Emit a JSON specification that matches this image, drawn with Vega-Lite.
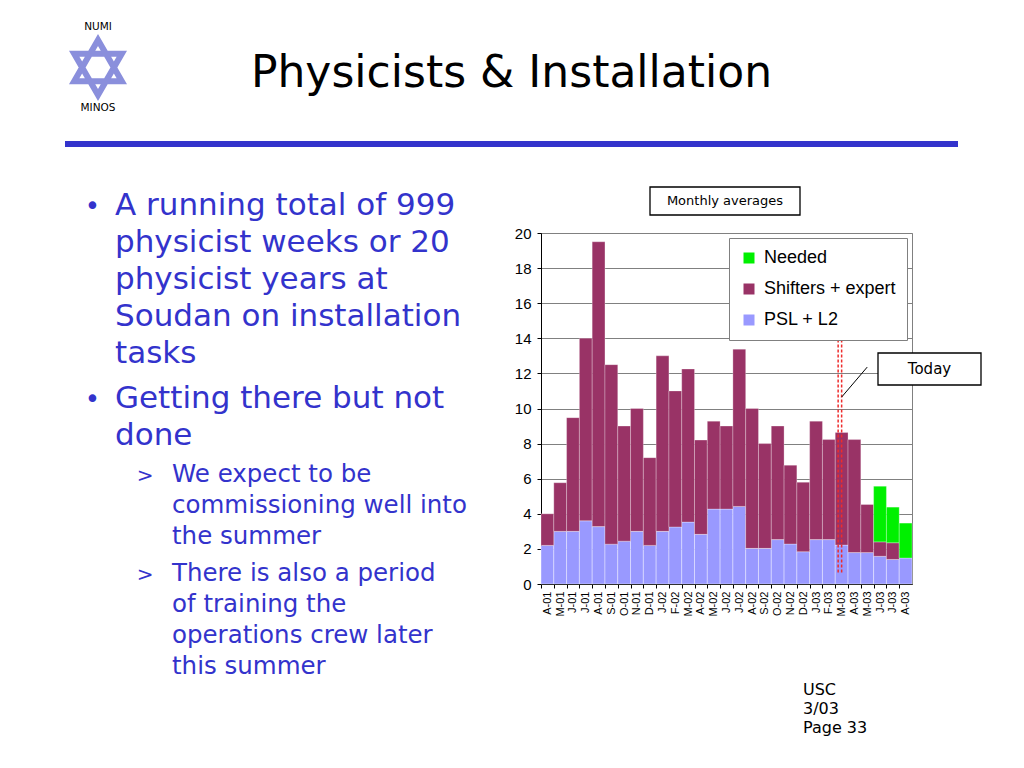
{
  "$schema": "https://vega.github.io/schema/vega-lite/v6.json",
  "width": 371,
  "height": 351,
  "autosize": {"type": "none"},
  "padding": {"left": 541, "top": 233, "right": 112, "bottom": 184},
  "background": "white",
  "config": {
    "view": {"stroke": "#808080", "strokeWidth": 1},
    "font": "DejaVu Sans",
    "axisY": {"labelFont": "Liberation Sans", "labelFontSize": 15, "labelColor": "black", "tickColor": "black", "tickSize": 4, "domainColor": "black", "labelPadding": 6, "grid": true, "gridColor": "#808080", "gridOpacity": 1, "tickCount": 11, "labelOverlap": false},
    "axisX": {"labelFont": "Liberation Sans", "labelFontSize": 11, "labelColor": "black", "tickColor": "black", "tickSize": 4, "domainColor": "black", "labelPadding": 3, "grid": false, "labelOverlap": false}
  },
  "resolve": {"scale": {"x": "independent", "y": "independent"}},
  "layer": [
    {
      "data": {"values": [
        {"m": "2001-04", "psl": 2.2, "tot": 4.0, "need": null},
        {"m": "2001-05", "psl": 3.0, "tot": 5.77, "need": null},
        {"m": "2001-06", "psl": 3.0, "tot": 9.48, "need": null},
        {"m": "2001-07", "psl": 3.6, "tot": 14.0, "need": null},
        {"m": "2001-08", "psl": 3.27, "tot": 19.5, "need": null},
        {"m": "2001-09", "psl": 2.27, "tot": 12.5, "need": null},
        {"m": "2001-10", "psl": 2.44, "tot": 9.0, "need": null},
        {"m": "2001-11", "psl": 3.0, "tot": 10.0, "need": null},
        {"m": "2001-12", "psl": 2.2, "tot": 7.2, "need": null},
        {"m": "2002-01", "psl": 3.0, "tot": 13.0, "need": null},
        {"m": "2002-02", "psl": 3.25, "tot": 11.0, "need": null},
        {"m": "2002-03", "psl": 3.53, "tot": 12.25, "need": null},
        {"m": "2002-04", "psl": 2.83, "tot": 8.2, "need": null},
        {"m": "2002-05", "psl": 4.27, "tot": 9.28, "need": null},
        {"m": "2002-06", "psl": 4.27, "tot": 9.0, "need": null},
        {"m": "2002-07", "psl": 4.42, "tot": 13.38, "need": null},
        {"m": "2002-08", "psl": 2.03, "tot": 10.0, "need": null},
        {"m": "2002-09", "psl": 2.03, "tot": 8.0, "need": null},
        {"m": "2002-10", "psl": 2.53, "tot": 9.0, "need": null},
        {"m": "2002-11", "psl": 2.28, "tot": 6.77, "need": null},
        {"m": "2002-12", "psl": 1.84, "tot": 5.8, "need": null},
        {"m": "2003-01", "psl": 2.53, "tot": 9.28, "need": null},
        {"m": "2003-02", "psl": 2.53, "tot": 8.23, "need": null},
        {"m": "2003-03", "psl": 2.22, "tot": 8.63, "need": null},
        {"m": "2003-04", "psl": 1.79, "tot": 8.23, "need": null},
        {"m": "2003-05", "psl": 1.79, "tot": 4.53, "need": null},
        {"m": "2003-06", "psl": 1.58, "tot": 2.4, "need": 5.57},
        {"m": "2003-07", "psl": 1.4, "tot": 2.35, "need": 4.38},
        {"m": "2003-08", "psl": 1.48, "tot": 1.48, "need": 3.47}
      ]},
      "encoding": {
        "x": {
          "field": "m", "type": "ordinal", "title": null,
          "scale": {"type": "band", "paddingInner": 0, "paddingOuter": 0},
          "axis": {
            "labelExpr": "substring('JFMAMJJASOND', toNumber(substring(datum.value, 5, 7)) - 1, toNumber(substring(datum.value, 5, 7))) + '-' + substring(datum.value, 2, 4)",
            "labelAngle": -90, "labelAlign": "right", "labelBaseline": "middle",
            "tickOffset": -6.397, "labelOffset": 6.397, "title": null
          }
        }
      },
      "layer": [
        {
          "mark": {"type": "bar", "stroke": "white", "strokeWidth": 0.7, "strokeOpacity": 0.55},
          "encoding": {
            "y": {
              "field": "psl", "type": "quantitative", "title": null,
              "scale": {"domain": [0, 20], "nice": false},
              "axis": {"values": [0, 2, 4, 6, 8, 10, 12, 14, 16, 18, 20], "tickCount": 11, "title": null}
            },
            "color": {
              "datum": "PSL + L2", "type": "nominal",
              "scale": {"domain": ["Needed", "Shifters + expert", "PSL + L2"], "range": ["#00f000", "#993366", "#9999ff"]},
              "legend": {
                "title": null, "orient": "top-right", "offset": 5, "fillColor": "white",
                "strokeColor": "#808080", "padding": 11, "labelFont": "Liberation Sans",
                "labelFontSize": 18, "labelColor": "black", "symbolType": "square",
                "symbolSize": 121, "symbolStrokeWidth": 0, "symbolOpacity": 1,
                "rowPadding": 13, "labelOffset": 6
              }
            }
          }
        },
        {
          "transform": [{"filter": "datum.tot > datum.psl"}],
          "mark": {"type": "bar", "stroke": "white", "strokeWidth": 0.7, "strokeOpacity": 0.4},
          "encoding": {
            "y": {"field": "psl", "type": "quantitative", "title": null, "axis": {"values": [0, 2, 4, 6, 8, 10, 12, 14, 16, 18, 20], "tickCount": 11, "title": null}},
            "y2": {"field": "tot"},
            "color": {"datum": "Shifters + expert", "type": "nominal"}
          }
        },
        {
          "transform": [{"filter": "datum.need != null"}],
          "mark": {"type": "bar", "stroke": "white", "strokeWidth": 0.7, "strokeOpacity": 0.4},
          "encoding": {
            "y": {"field": "tot", "type": "quantitative", "title": null, "axis": {"values": [0, 2, 4, 6, 8, 10, 12, 14, 16, 18, 20], "tickCount": 11, "title": null}},
            "y2": {"field": "need"},
            "color": {"datum": "Needed", "type": "nominal"}
          }
        },
        {
          "data": {"values": [{"m": "2003-03"}]},
          "mark": {"type": "rule", "color": "#ee2c2c", "strokeWidth": 1.5, "strokeDash": [3, 2], "xOffset": -3.5},
          "encoding": {"y": {"datum": 0.65, "type": "quantitative", "title": null, "axis": {"values": [0, 2, 4, 6, 8, 10, 12, 14, 16, 18, 20], "tickCount": 11, "title": null}}, "y2": {"datum": 14.3}}
        },
        {
          "data": {"values": [{"m": "2003-03"}]},
          "mark": {"type": "rule", "color": "#ee2c2c", "strokeWidth": 1.5, "strokeDash": [3, 2], "xOffset": 0},
          "encoding": {"y": {"datum": 0.65, "type": "quantitative", "title": null, "axis": {"values": [0, 2, 4, 6, 8, 10, 12, 14, 16, 18, 20], "tickCount": 11, "title": null}}, "y2": {"datum": 14.3}}
        },
        {
          "data": {"values": [{"m": "2003-03", "y": 10.65}, {"m": "2003-05", "y": 12.36}]},
          "mark": {"type": "line", "color": "black", "strokeWidth": 1},
          "encoding": {"y": {"field": "y", "type": "quantitative", "title": null, "axis": {"values": [0, 2, 4, 6, 8, 10, 12, 14, 16, 18, 20], "tickCount": 11, "title": null}}}
        }
      ]
    },
    {
      "data": {"values": [{}]},
      "layer": [
        {
          "mark": {"type": "text", "text": "Physicists & Installation", "fontSize": 44, "font": "DejaVu Sans", "color": "black", "align": "center", "baseline": "alphabetic"},
          "encoding": {
            "x": {"datum": "mid", "type": "nominal", "scale": {"type": "point", "domain": ["start", "mid", "end"], "range": [-476, 417], "padding": 0}, "axis": null},
            "y": {"datum": "title", "type": "nominal", "scale": {"type": "point", "domain": ["title", "rule"], "range": [-146, -89], "padding": 0}, "axis": null}
          }
        },
        {
          "mark": {"type": "rule", "color": "#3333cc", "strokeWidth": 6},
          "encoding": {
            "x": {"datum": "start", "type": "nominal", "scale": {"type": "point", "domain": ["start", "mid", "end"], "range": [-476, 417], "padding": 0}, "axis": null},
            "x2": {"datum": "end"},
            "y": {"datum": "rule", "type": "nominal", "scale": {"type": "point", "domain": ["title", "rule"], "range": [-146, -89], "padding": 0}, "axis": null}
          }
        }
      ]
    },
    {
      "data": {"values": [{}]},
      "encoding": {
        "x": {"datum": "logo", "type": "nominal", "scale": {"type": "point", "domain": ["logo"], "range": [-443, -443], "padding": 0}, "axis": null}
      },
      "layer": [
        {
          "mark": {"type": "point", "shape": "M0,-1L0.866,0.5L-0.866,0.5Z M0,1L0.866,-0.5L-0.866,-0.5Z", "size": 3025, "filled": false, "stroke": "#8a8fdc", "strokeWidth": 6, "opacity": 1},
          "encoding": {"y": {"datum": "shape", "type": "nominal", "scale": {"type": "point", "domain": ["NUMI", "shape", "MINOS"], "range": [-206, -125], "padding": 0}, "axis": null}}
        },
        {
          "mark": {"type": "text", "text": "NUMI", "fontSize": 10.5, "color": "black", "align": "center", "baseline": "middle"},
          "encoding": {"y": {"datum": "NUMI", "type": "nominal", "scale": {"type": "point", "domain": ["NUMI", "shape", "MINOS"], "range": [-206, -125], "padding": 0}, "axis": null}}
        },
        {
          "mark": {"type": "text", "text": "MINOS", "fontSize": 10.5, "color": "black", "align": "center", "baseline": "middle"},
          "encoding": {"y": {"datum": "MINOS", "type": "nominal", "scale": {"type": "point", "domain": ["NUMI", "shape", "MINOS"], "range": [-206, -125], "padding": 0}, "axis": null}}
        }
      ]
    },
    {
      "data": {"values": [{}]},
      "layer": [
        {
          "mark": {"type": "text", "text": ["A running total of 999", "physicist weeks or 20", "physicist years at", "Soudan on installation", "tasks"], "fontSize": 31, "lineHeight": 37, "color": "#3333cc", "align": "left", "baseline": "alphabetic"},
          "encoding": {
            "x": {"datum": "t", "type": "nominal", "scale": {"type": "point", "domain": ["m", "t"], "range": [-448.5, -426], "padding": 0}, "axis": null},
            "y": {"datum": "P1", "type": "nominal", "scale": {"type": "point", "domain": ["P1", "P2"], "range": [-18, 175], "padding": 0}, "axis": null}
          }
        },
        {
          "mark": {"type": "text", "text": ["Getting there but not", "done"], "fontSize": 31, "lineHeight": 37, "color": "#3333cc", "align": "left", "baseline": "alphabetic"},
          "encoding": {
            "x": {"datum": "t", "type": "nominal", "scale": {"type": "point", "domain": ["m", "t"], "range": [-448.5, -426], "padding": 0}, "axis": null},
            "y": {"datum": "P2", "type": "nominal", "scale": {"type": "point", "domain": ["P1", "P2"], "range": [-18, 175], "padding": 0}, "axis": null}
          }
        },
        {
          "mark": {"type": "text", "text": "•", "fontSize": 26, "color": "#3333cc", "align": "center", "baseline": "alphabetic"},
          "encoding": {
            "x": {"datum": "m", "type": "nominal", "scale": {"type": "point", "domain": ["m", "t"], "range": [-448.5, -426], "padding": 0}, "axis": null},
            "y": {"datum": "P1", "type": "nominal", "scale": {"type": "point", "domain": ["P1", "P2"], "range": [-18, 175], "padding": 0}, "axis": null}
          }
        },
        {
          "mark": {"type": "text", "text": "•", "fontSize": 26, "color": "#3333cc", "align": "center", "baseline": "alphabetic"},
          "encoding": {
            "x": {"datum": "m", "type": "nominal", "scale": {"type": "point", "domain": ["m", "t"], "range": [-448.5, -426], "padding": 0}, "axis": null},
            "y": {"datum": "P2", "type": "nominal", "scale": {"type": "point", "domain": ["P1", "P2"], "range": [-18, 175], "padding": 0}, "axis": null}
          }
        }
      ]
    },
    {
      "data": {"values": [{}]},
      "layer": [
        {
          "mark": {"type": "text", "text": ["We expect to be", "commissioning well into", "the summer"], "fontSize": 24.5, "lineHeight": 31, "color": "#3333cc", "align": "left", "baseline": "alphabetic"},
          "encoding": {
            "x": {"datum": "t", "type": "nominal", "scale": {"type": "point", "domain": ["m", "t"], "range": [-396, -369], "padding": 0}, "axis": null},
            "y": {"datum": "P3", "type": "nominal", "scale": {"type": "point", "domain": ["P3", "P4"], "range": [249, 348], "padding": 0}, "axis": null}
          }
        },
        {
          "mark": {"type": "text", "text": ["There is also a period", "of training the", "operations crew later", "this summer"], "fontSize": 24.5, "lineHeight": 31, "color": "#3333cc", "align": "left", "baseline": "alphabetic"},
          "encoding": {
            "x": {"datum": "t", "type": "nominal", "scale": {"type": "point", "domain": ["m", "t"], "range": [-396, -369], "padding": 0}, "axis": null},
            "y": {"datum": "P4", "type": "nominal", "scale": {"type": "point", "domain": ["P3", "P4"], "range": [249, 348], "padding": 0}, "axis": null}
          }
        },
        {
          "mark": {"type": "text", "text": ">", "fontSize": 20, "color": "#3333cc", "align": "center", "baseline": "alphabetic"},
          "encoding": {
            "x": {"datum": "m", "type": "nominal", "scale": {"type": "point", "domain": ["m", "t"], "range": [-396, -369], "padding": 0}, "axis": null},
            "y": {"datum": "P3", "type": "nominal", "scale": {"type": "point", "domain": ["P3", "P4"], "range": [249, 348], "padding": 0}, "axis": null}
          }
        },
        {
          "mark": {"type": "text", "text": ">", "fontSize": 20, "color": "#3333cc", "align": "center", "baseline": "alphabetic"},
          "encoding": {
            "x": {"datum": "m", "type": "nominal", "scale": {"type": "point", "domain": ["m", "t"], "range": [-396, -369], "padding": 0}, "axis": null},
            "y": {"datum": "P4", "type": "nominal", "scale": {"type": "point", "domain": ["P3", "P4"], "range": [249, 348], "padding": 0}, "axis": null}
          }
        }
      ]
    },
    {
      "data": {"values": [{}]},
      "layer": [
        {
          "mark": {"type": "text", "text": ["USC", "3/03", "Page 33"], "fontSize": 16, "lineHeight": 19, "color": "black", "align": "left", "baseline": "alphabetic"},
          "encoding": {
            "x": {"datum": "f", "type": "nominal", "scale": {"type": "point", "domain": ["f"], "range": [262, 262], "padding": 0}, "axis": null},
            "y": {"datum": "f", "type": "nominal", "scale": {"type": "point", "domain": ["f"], "range": [462, 462], "padding": 0}, "axis": null}
          }
        }
      ]
    },
    {
      "data": {"values": [{}]},
      "layer": [
        {
          "mark": {"type": "point", "shape": "M-1,-0.1867L1,-0.1867L1,0.1867L-1,0.1867Z", "size": 22500, "filled": true, "fill": "white", "stroke": "black", "strokeWidth": 1.3, "opacity": 1},
          "encoding": {
            "x": {"datum": "monthly", "type": "nominal", "scale": {"type": "point", "domain": ["monthly", "today"], "range": [184, 388.5], "padding": 0}, "axis": null},
            "y": {"datum": "monthly", "type": "nominal", "scale": {"type": "point", "domain": ["monthly", "today"], "range": [-32, 136], "padding": 0}, "axis": null}
          }
        },
        {
          "mark": {"type": "text", "text": "Monthly averages", "fontSize": 13, "color": "black", "align": "center", "baseline": "middle"},
          "encoding": {
            "x": {"datum": "monthly", "type": "nominal", "scale": {"type": "point", "domain": ["monthly", "today"], "range": [184, 388.5], "padding": 0}, "axis": null},
            "y": {"datum": "monthly", "type": "nominal", "scale": {"type": "point", "domain": ["monthly", "today"], "range": [-32, 136], "padding": 0}, "axis": null}
          }
        },
        {
          "mark": {"type": "point", "shape": "M-1,-0.3107L1,-0.3107L1,0.3107L-1,0.3107Z", "size": 10609, "filled": true, "fill": "white", "stroke": "black", "strokeWidth": 1.3, "opacity": 1},
          "encoding": {
            "x": {"datum": "today", "type": "nominal", "scale": {"type": "point", "domain": ["monthly", "today"], "range": [184, 388.5], "padding": 0}, "axis": null},
            "y": {"datum": "today", "type": "nominal", "scale": {"type": "point", "domain": ["monthly", "today"], "range": [-32, 136], "padding": 0}, "axis": null}
          }
        },
        {
          "mark": {"type": "text", "text": "Today", "fontSize": 15, "color": "black", "align": "center", "baseline": "middle"},
          "encoding": {
            "x": {"datum": "today", "type": "nominal", "scale": {"type": "point", "domain": ["monthly", "today"], "range": [184, 388.5], "padding": 0}, "axis": null},
            "y": {"datum": "today", "type": "nominal", "scale": {"type": "point", "domain": ["monthly", "today"], "range": [-32, 136], "padding": 0}, "axis": null}
          }
        }
      ]
    }
  ]
}
